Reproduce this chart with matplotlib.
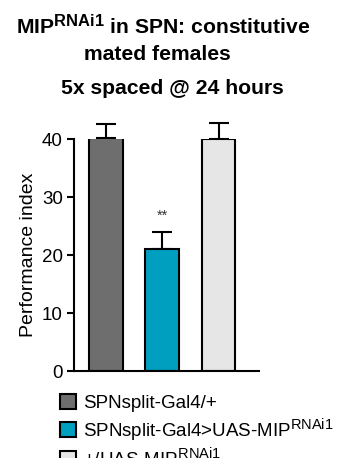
import matplotlib
matplotlib.use("Agg")
import matplotlib.pyplot as plt
from matplotlib.patches import Patch
try:
    import matplotlib._mathtext as _mt
    _mt.SHRINK_FACTOR = 0.78
except Exception:
    pass

plt.rcParams['font.family'] = ['Liberation Sans', 'DejaVu Sans']
plt.rcParams['mathtext.fontset'] = 'custom'
plt.rcParams['mathtext.rm'] = 'Liberation Sans'
plt.rcParams['mathtext.it'] = 'Liberation Sans'
plt.rcParams['mathtext.bf'] = 'Liberation Sans:bold'

# Data
groups = ["SPNsplit-Gal4/+",
          "SPNsplit-Gal4>UAS-MIP$^{\\mathregular{RNAi1}}$",
          "+/UAS-MIP$^{\\mathregular{RNAi1}}$"]
values = [40.1, 21.0, 40.0]
errors = [2.5, 2.9, 2.8]
colors = ["#6e6e6e", "#009fbf", "#e6e6e6"]
significance = ["", "**", ""]
yticks = [0, 10, 20, 30, 40]

fig = plt.figure(figsize=(3.37, 4.58), dpi=100)
ax = fig.add_axes([74/337, 87/458, 185/337, 232/458])

x = list(range(len(values)))
ax.bar(x, values, width=0.6, color=colors, edgecolor='black', linewidth=1.5, zorder=2)
ax.errorbar(x, values, yerr=[[0]*len(errors), errors], fmt='none', ecolor='black',
            elinewidth=1.5, capsize=7, capthick=1.5, clip_on=False, zorder=1)
for xi, v, e, s in zip(x, values, errors, significance):
    if s:
        ax.text(xi, v + e + 2.9, s, ha='center', va='center', fontsize=10.5, color='#333333')

ax.set_xlim(-0.569, 2.72)
ax.set_ylim(0, 40)
ax.set_yticks(yticks)
ax.set_xticks([])
ax.spines['top'].set_visible(False)
ax.spines['right'].set_visible(False)
ax.spines['left'].set_linewidth(1.5)
ax.spines['bottom'].set_linewidth(1.5)
ax.tick_params(axis='y', length=5, width=1.5, pad=3, labelsize=13.5)
ax.set_ylabel("Performance index", fontsize=14)
ax.yaxis.set_label_coords(-0.198, 0.5)

fig.text(163/337, 1 - 26/458, "MIP$^{\\mathbf{RNAi1}}$ in SPN: constitutive", ha='center', va='center',
         fontsize=15.2, fontweight='bold')
fig.text(157/337, 1 - 55/458, "mated females", ha='center', va='center',
         fontsize=15.2, fontweight='bold')
fig.text(172/337, 1 - 89/458, "5x spaced @ 24 hours", ha='center', va='center',
         fontsize=15.2, fontweight='bold')

handles = [Patch(facecolor=c, edgecolor='black', linewidth=1.5) for c in colors]
fig.legend(handles, groups, loc='upper left', bbox_to_anchor=(60/337, 1 - 394/458),
           frameon=False, fontsize=13.5, handlelength=0.85, handleheight=0.85,
           handletextpad=0.4, labelspacing=0.2, borderpad=0, borderaxespad=0)

fig.savefig("out.png", dpi=100)
